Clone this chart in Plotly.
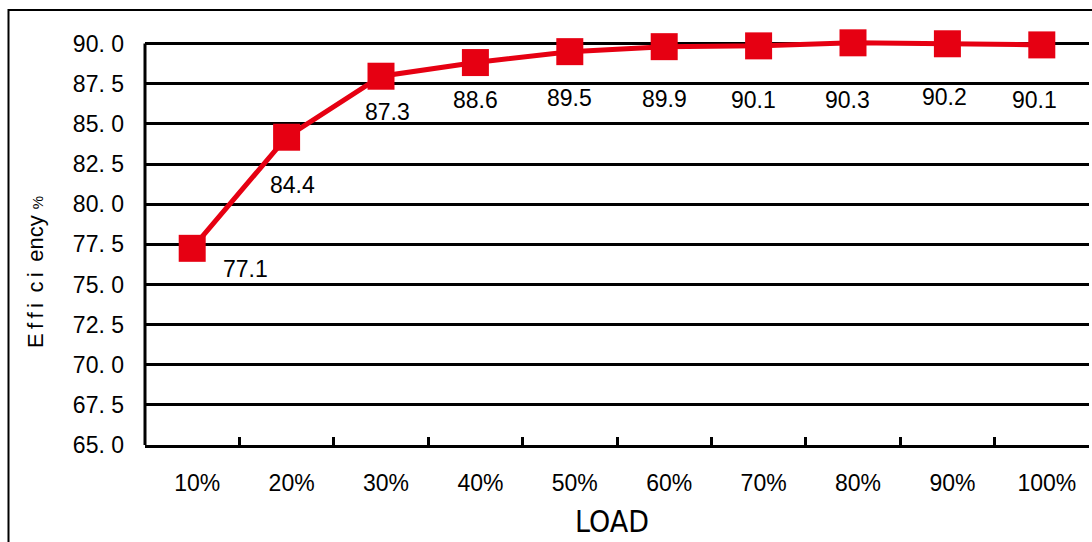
import plotly.graph_objects as go

categories = ["10%", "20%", "30%", "40%", "50%", "60%", "70%", "80%", "90%", "100%"]
plotted = [77.25, 84.17, 87.97, 88.82, 89.5, 89.81, 89.86, 90.05, 89.99, 89.92]
labels = ["77.1", "84.4", "87.3", "88.6", "89.5", "89.9", "90.1", "90.3", "90.2", "90.1"]
y_ticks = [65.0, 67.5, 70.0, 72.5, 75.0, 77.5, 80.0, 82.5, 85.0, 87.5, 90.0]
y_ticktext = ["65. 0", "67. 5", "70. 0", "72. 5", "75. 0", "77. 5", "80. 0", "82. 5", "85. 0", "87. 5", "90. 0"]

# label offsets in pixels (dx, dy-down)
label_offsets = [(53, 21), (6, 48), (6, 36), (0, 37), (0, 46), (0, 52), (-5, 54), (-6, 57), (-3, 53), (-7, 55)]

RED = "#E60012"
FONT = "Liberation Sans, Arial, sans-serif"
NARROW = "Liberation Sans Narrow, DejaVu Sans Condensed, Arial Narrow, sans-serif"

fig = go.Figure()
fig.add_trace(go.Scatter(
    x=categories, y=plotted, mode="lines+markers",
    line=dict(color=RED, width=5),
    marker=dict(symbol="square", size=27, color=RED),
    cliponaxis=False, showlegend=False, hoverinfo="x+y",
))

for c, v, t, (dx, dy) in zip(categories, plotted, labels, label_offsets):
    fig.add_annotation(x=c, y=v, text=t, showarrow=False, xshift=dx, yshift=-dy,
                       font=dict(family=FONT, size=23, color="black"))

# y axis line from 65 to 90 only
fig.add_shape(type="line", xref="paper", yref="y", x0=0, x1=0, y0=65, y1=90,
              line=dict(color="black", width=3))
# outer chart border
fig.add_shape(type="rect", xref="paper", yref="paper", x0=-0.1446, x1=1.05, y0=-0.4, y1=1.0688,
              line=dict(color="black", width=2), layer="below")

# y axis title
fig.add_annotation(xref="paper", yref="paper", x=-0.1165, y=0.425, textangle=-90,
                   xanchor="center", yanchor="middle", showarrow=False,
                   text="E\u2009f\u2009f\u2009i\u2009 c\u2009i\u2009 ency <span style='font-size:15px'>%</span>",
                   font=dict(family=FONT, size=22, color="black"))

# x axis title
fig.add_annotation(xref="paper", yref="paper", x=0.4947, y=-0.189,
                   xanchor="center", yanchor="middle", showarrow=False,
                   text="LOAD", font=dict(family=NARROW, size=30, color="black"))

fig.update_layout(
    width=1092, height=542,
    margin=dict(l=145, r=3, t=38, b=97),
    paper_bgcolor="white", plot_bgcolor="white",
    font=dict(family=FONT, size=23, color="black"),
    xaxis=dict(
        type="category", showline=True, linecolor="black", linewidth=3,
        ticks="inside", tickson="boundaries", ticklen=8, tickwidth=3, tickcolor="black",
        showgrid=False, ticklabelstandoff=15, ticklabelshift=5, automargin=False,
        tickfont=dict(family=FONT, size=23),
        range=[-0.5, 9.5], fixedrange=True,
    ),
    yaxis=dict(
        range=[65, 90.35], tickvals=y_ticks, ticktext=y_ticktext,
        showline=False,
        showgrid=True, gridcolor="black", gridwidth=3,
        ticks="", ticklabelstandoff=20, automargin=False,
        tickfont=dict(family=FONT, size=23),
        zeroline=False, fixedrange=True,
    ),
)

fig.write_html("out.html", config={"displayModeBar": False},
               post_script="document.body.style.margin='0';")
